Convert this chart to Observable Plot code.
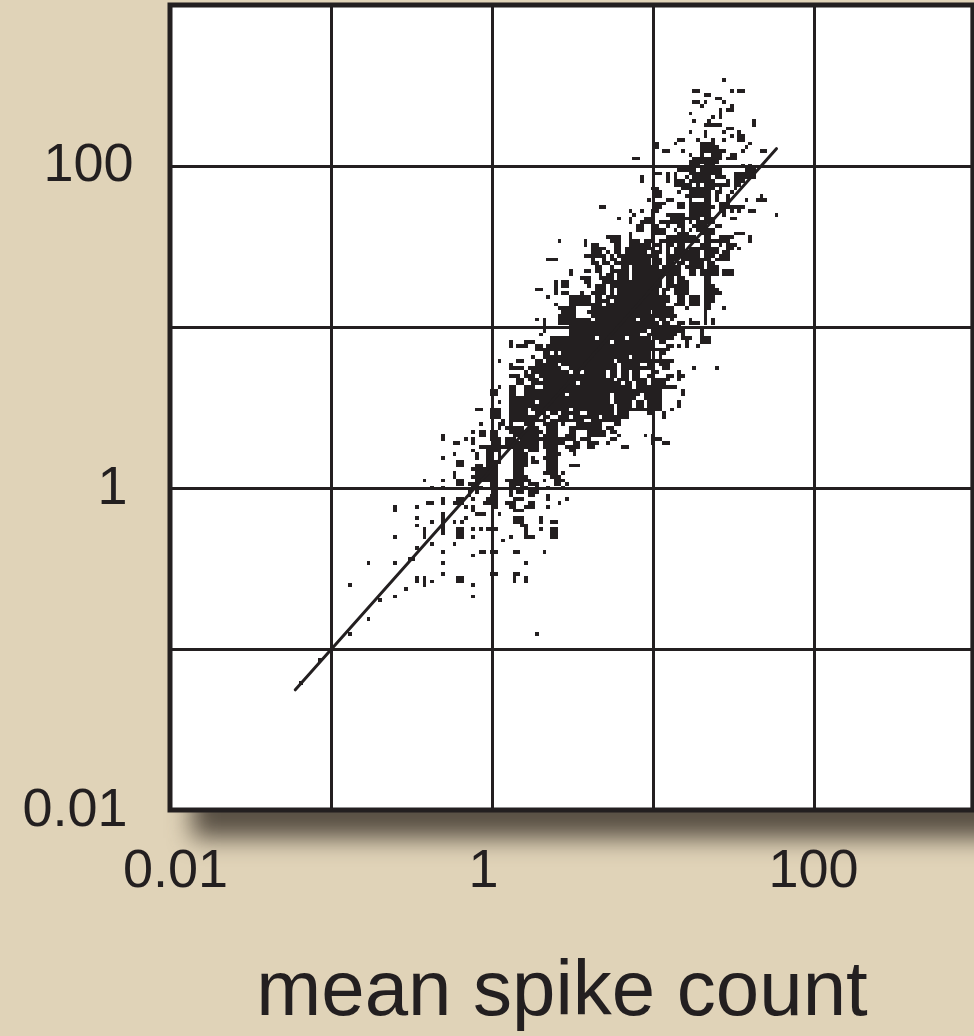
<!DOCTYPE html>
<html><head><meta charset="utf-8">
<script src="https://cdn.jsdelivr.net/npm/d3@7"></script>
<script src="https://cdn.jsdelivr.net/npm/@observablehq/plot@0.6"></script>
<style>
html,body{margin:0;padding:0;background:#e0d3b8;width:974px;height:1036px;overflow:hidden}
#wrap{position:relative;width:974px;height:1036px;overflow:hidden}
#shadow{position:absolute;left:192px;top:40px;width:840px;height:798px;background:rgba(50,42,34,.78);filter:blur(12px)}
#chart{position:absolute;left:0;top:0}
</style></head><body>
<div id="wrap"><div id="shadow"></div><div id="chart"></div></div>
<script>
// Raster of the published scatter: bins are 1/43 of a decade, value = 0.01 * 10^(bin/43)
const binsPerDecade = 43;
const yLabels = [100, 1, 0.01];
const xLabels = [0.01, 1, 100];
const gridValues = [0.1, 1, 10, 100];
const fitMean = [0.0596, 58];
const fitVariance = [0.0562, 129];
const xTitle = "mean spike count";
// [varianceBin, [meanBinStart, meanBinEnd], ...]
const occupiedCells = [
[195,[148,148]],
[192,[140,141],[150,150],[152,153]],
[191,[143,144]],
[190,[146,147]],
[189,[140,141],[143,143],[148,148]],
[188,[142,142],[150,150]],
[187,[147,147],[149,150]],
[186,[139,139],[147,147]],
[185,[145,145],[147,147]],
[184,[140,140],[144,144],[156,156]],
[183,[143,147],[156,156]],
[182,[149,150]],
[181,[139,139],[143,143],[148,148],[152,152]],
[180,[143,143],[150,150],[152,153]],
[179,[136,137],[141,141],[145,145],[148,148],[152,153]],
[178,[130,130],[135,135],[142,144],[145,145],[155,155]],
[177,[130,130],[142,146],[154,154]],
[176,[132,133],[137,137],[142,147],[148,148],[153,153],[158,159]],
[175,[139,139],[142,142],[145,147],[150,151]],
[174,[124,125],[140,147],[149,151]],
[173,[139,146]],
[172,[139,141],[143,145],[153,153],[155,155]],
[171,[136,140],[142,147],[154,156]],
[170,[130,131],[133,133],[135,135],[139,147],[151,156]],
[169,[126,126],[133,133],[135,135],[138,138],[140,144],[146,148],[151,154],[155,156]],
[168,[126,126],[133,133],[135,137],[139,145],[149,149],[151,153]],
[167,[135,139],[141,141],[143,149],[151,152]],
[166,[129,130],[137,145],[147,147],[151,151]],
[165,[130,131],[136,136],[139,144],[146,147],[150,150]],
[164,[130,131],[138,144],[146,146],[149,149],[158,158]],
[163,[128,128],[133,134],[139,139],[143,144],[146,146],[149,149],[154,154],[157,159]],
[162,[130,132],[136,137],[139,144],[147,149]],
[161,[115,116],[130,131],[136,137],[139,145],[147,153]],
[160,[123,123],[126,126],[129,130],[139,144],[147,148],[150,150],[152,152],[155,156]],
[159,[124,124],[129,129],[133,137],[139,144],[148,148],[162,162]],
[158,[120,120],[123,123],[127,129],[134,141],[143,145],[150,151]],
[157,[123,123],[126,129],[131,137],[139,139],[141,145]],
[156,[125,126],[129,130],[133,133],[136,137],[140,143],[146,147]],
[155,[125,126],[129,129],[130,132],[135,135],[137,137],[139,139],[141,145]],
[154,[123,123],[129,132],[136,138],[142,145],[151,153]],
[153,[117,120],[123,123],[129,129],[133,140],[143,144],[147,150],[155,155]],
[152,[104,104],[111,111],[118,120],[123,125],[127,129],[131,141],[143,149],[155,155]],
[151,[111,111],[113,114],[119,120],[123,128],[130,131],[133,134],[136,137],[142,144],[147,147],[149,151]],
[150,[113,116],[119,120],[122,129],[131,131],[133,133],[135,137],[139,146],[149,150],[152,152]],
[149,[113,115],[117,117],[119,120],[122,127],[129,131],[133,133],[135,141],[143,146],[148,149]],
[148,[111,116],[118,118],[120,130],[133,141],[143,145],[147,149]],
[147,[101,103],[113,113],[116,116],[118,119],[121,128],[130,131],[133,135],[137,144],[146,149]],
[146,[113,114],[116,117],[119,128],[130,131],[133,134],[136,137],[139,142],[144,145]],
[145,[114,115],[118,118],[121,122],[124,130],[132,136],[138,142],[144,146]],
[144,[107,107],[111,112],[114,115],[118,122],[124,136],[139,140],[142,146],[148,150]],
[143,[107,107],[115,115],[117,118],[120,122],[124,136],[139,140],[142,146],[148,150]],
[142,[110,112],[115,118],[120,122],[124,131],[133,134],[136,137],[143,144]],
[141,[103,103],[105,106],[111,112],[116,131],[133,134],[136,138],[143,144]],
[140,[103,103],[105,106],[112,112],[114,116],[118,131],[133,138],[143,145]],
[139,[98,99],[103,103],[114,116],[118,118],[120,130],[132,133],[135,138],[143,146]],
[138,[103,103],[105,106],[110,110],[113,116],[118,118],[120,130],[132,132],[135,138],[143,147]],
[137,[101,101],[107,112],[114,115],[117,133],[136,137],[139,141],[143,145]],
[136,[107,112],[114,117],[119,133],[136,137],[139,141],[143,145]],
[135,[103,103],[107,112],[113,115],[117,132],[135,137],[139,141],[143,144]],
[134,[104,108],[113,134],[138,138],[143,144],[148,148]],
[133,[105,108],[112,128],[130,134],[143,143]],
[132,[104,108],[113,130],[131,135],[143,143]],
[131,[98,98],[100,100],[104,112],[114,124],[126,129],[131,132],[134,134],[139,139],[143,143],[145,145]],
[130,[100,100],[104,130],[132,133],[136,137],[139,141],[143,143],[145,145]],
[129,[100,100],[107,136]],
[128,[100,100],[107,127],[129,137],[142,142]],
[127,[99,99],[107,125],[128,135],[137,137],[142,142]],
[126,[102,113],[115,121],[123,128],[130,134],[137,139],[142,144]],
[125,[91,91],[95,97],[102,117],[119,129],[131,132],[138,138],[142,144]],
[124,[91,91],[93,95],[98,99],[101,129],[133,134],[136,136],[138,138],[141,141]],
[123,[98,129],[130,133]],
[122,[100,101],[103,103],[105,128],[131,132]],
[121,[97,97],[100,105],[106,122],[124,128],[131,131]],
[120,[88,88],[93,94],[98,99],[101,118],[120,134]],
[119,[91,91],[98,103],[105,119],[121,125],[128,129],[131,133]],
[118,[91,94],[96,104],[107,119],[121,129],[132,133],[140,140],[146,146]],
[117,[95,95],[97,104],[105,106],[108,109],[111,116],[118,119],[121,122],[124,125],[129,130],[136,136]],
[116,[91,93],[95,97],[99,116],[118,119],[121,122],[124,125],[128,129],[133,134],[136,137]],
[115,[93,94],[96,98],[100,118],[120,122],[124,127],[129,133],[136,136]],
[114,[93,94],[97,108],[110,120],[122,123],[125,127],[129,132]],
[113,[88,88],[91,92],[95,97],[100,123],[125,135]],
[112,[86,87],[91,92],[95,131],[137,137]],
[111,[86,87],[91,92],[95,105],[107,117],[119,125],[127,131],[137,137]],
[110,[91,117],[119,124],[127,131]],
[109,[88,88],[91,97],[99,117],[119,123],[125,126],[128,131],[136,136]],
[108,[91,118],[120,123],[125,126],[128,131],[136,136]],
[107,[82,83],[86,88],[91,95],[97,106],[108,118],[120,131],[134,134]],
[106,[86,88],[91,95],[98,100],[102,103],[105,109],[112,118],[120,122],[128,129],[132,132]],
[105,[86,88],[91,98],[100,101],[104,106],[108,114],[116,122],[132,132]],
[104,[89,89],[91,100],[102,110],[113,120]],
[103,[83,83],[88,89],[91,91],[95,97],[100,103],[105,105],[109,115],[119,120]],
[102,[88,88],[90,94],[96,98],[101,103],[107,115],[117,118]],
[101,[81,81],[83,84],[86,87],[91,95],[96,99],[101,103],[107,108],[112,116],[118,119]],
[100,[73,73],[83,84],[86,87],[92,98],[100,103],[106,108],[112,116],[120,120],[127,127],[129,129]],
[99,[73,73],[79,79],[81,81],[86,88],[90,92],[94,104],[105,108],[110,112],[118,119],[129,131]],
[98,[76,77],[81,81],[87,88],[90,98],[100,105],[108,109],[112,114],[117,117],[129,129],[132,133]],
[97,[83,98],[100,103],[106,109],[112,113],[121,122]],
[96,[81,81],[85,88],[92,94],[96,98],[101,103],[107,108]],
[95,[76,76],[82,82],[85,86],[88,88],[92,95],[101,104],[108,108]],
[94,[73,73],[82,82],[85,86],[88,88],[92,95],[97,97],[100,103]],
[93,[77,78],[85,88],[92,95],[97,98],[101,103]],
[92,[77,78],[82,83],[85,87],[92,95],[101,103],[107,109]],
[91,[81,87],[92,94],[101,103]],
[90,[76,76],[82,87],[92,94],[100,103],[105,105]],
[89,[76,76],[81,87],[92,95],[102,104]],
[88,[68,68],[73,73],[77,78],[82,87],[90,96],[100,100],[103,105]],
[87,[77,78],[80,82],[86,87],[91,94],[96,98],[103,104],[106,106]],
[86,[70,70],[73,73],[81,83],[86,87],[91,92],[94,95],[98,98],[101,101],[105,105]],
[85,[80,80],[82,82],[87,87],[91,91],[93,94],[96,98]],
[84,[80,80],[86,87],[91,91],[96,97],[101,101]],
[83,[73,73],[77,78],[81,81],[85,87],[92,94],[101,101],[106,106]],
[82,[69,70],[73,73],[76,78],[84,87],[90,92],[96,97],[104,104]],
[81,[60,60],[66,66],[79,79],[81,81],[87,87],[91,92],[95,97],[101,101]],
[80,[60,60],[81,81],[92,94]],
[79,[73,73],[82,84],[88,88]],
[78,[66,66],[73,73],[79,79],[92,94],[99,99]],
[77,[70,70],[73,73],[76,76],[78,78],[92,94],[99,99],[102,103]],
[76,[66,66],[73,73],[94,95]],
[75,[68,68],[73,73],[77,78],[81,81],[83,83],[85,87],[95,95],[99,99],[102,103]],
[74,[68,68],[73,73],[77,78],[95,95],[102,103]],
[73,[60,60],[68,68],[77,78],[81,81],[91,91],[95,97],[102,103]],
[72,[89,89]],
[71,[70,70],[76,76]],
[70,[66,66]],
[69,[73,73],[83,84],[86,87],[92,93],[100,100]],
[68,[81,81]],
[67,[64,65]],
[66,[53,53],[60,60],[73,73],[95,95]],
[63,[73,73],[86,87],[92,93]],
[62,[66,66],[68,68],[77,78],[92,92],[95,95]],
[61,[66,66],[68,68],[70,70],[77,78],[92,92],[95,95]],
[60,[48,48],[68,68],[81,81]],
[59,[63,63]],
[57,[60,60],[81,81]],
[56,[56,56]],
[51,[53,53]],
[47,[48,48],[98,98]],
[40,[40,40]],
[34,[35,35]]
];
const binValue = b => 0.01 * Math.pow(10, b / binsPerDecade);
const cells = occupiedCells.flatMap(([v, ...runs]) => runs.flatMap(([a, b]) => d3.range(a, b + 1).map(m => ({m, v}))));
const ink = "#231f20";
const fitLine = fitMean.map((x, i) => ({x, y: fitVariance[i]}));
const fmt = d => String(d);
const labelFont = {tickSize: 0, tickPadding: 0, fontSize: 54, fill: ink, label: null, tickFormat: fmt};
const plot = Plot.plot({
  width: 974, height: 1036,
  marginLeft: 170, marginRight: -1, marginTop: 5, marginBottom: 226,
  style: {background: "transparent", fontFamily: '"Liberation Sans",Arial,sans-serif', overflow: "hidden"},
  x: {type: "log", domain: [0.01, 1000]},
  y: {type: "log", domain: [0.01, 1000]},
  marks: [
    Plot.rect([0], {x1: () => 0.01, x2: () => 970, y1: () => 0.01, y2: () => 1000, fill: "white"}),
    Plot.ruleX(gridValues, {y1: 0.01, y2: 1000, stroke: ink, strokeWidth: 3}),
    Plot.ruleY(gridValues, {x1: 0.01, x2: 970, stroke: ink, strokeWidth: 3}),
    Plot.rect(cells, {
      x1: d => binValue(d.m - 0.5), x2: d => binValue(d.m + 0.5),
      y1: d => binValue(d.v - 0.5), y2: d => binValue(d.v + 0.5),
      fill: ink, shapeRendering: "crispEdges"
    }),
    Plot.line(fitLine, {x: "x", y: "y", stroke: ink, strokeWidth: 3}),
    Plot.rect([0], {x1: () => 0.01, x2: () => 970, y1: () => 0.01, y2: () => 1000, stroke: ink, strokeWidth: 5, fill: "none"}),
    Plot.axisY([yLabels[0]], {...labelFont, anchor: "left", dx: -37, dy: -3}),
    Plot.axisY([yLabels[1]], {...labelFont, anchor: "left", dx: -43, dy: -2}),
    Plot.axisY([yLabels[2]], {...labelFont, anchor: "left", dx: -43, dy: -2}),
    Plot.axisX([xLabels[0]], {...labelFont, anchor: "bottom", dx: 5, dy: 38}),
    Plot.axisX([xLabels[1]], {...labelFont, anchor: "bottom", dx: -9, dy: 38}),
    Plot.axisX([xLabels[2]], {...labelFont, anchor: "bottom", dx: -1, dy: 38}),
    Plot.text([xTitle], {frameAnchor: "bottom", dx: -11, dy: 204, fontSize: 78, fill: ink})
  ]
});
document.getElementById("chart").append(plot);
</script>
</body></html>
